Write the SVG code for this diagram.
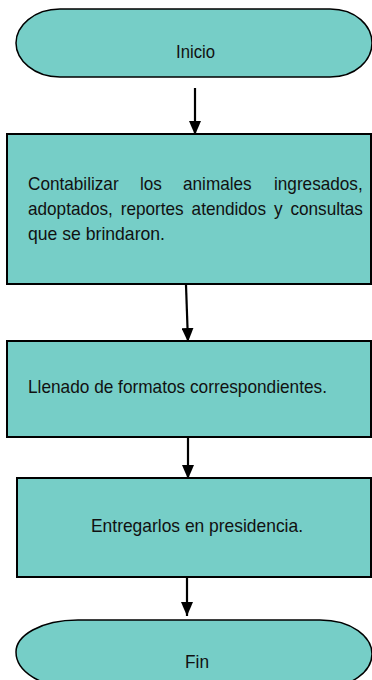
<svg xmlns="http://www.w3.org/2000/svg" width="372" height="680" viewBox="0 0 372 680">
<defs>
<style>
.shape{fill:#76cec7;stroke:#000;stroke-width:2}
.term{fill:#76cec7;stroke:#000;stroke-width:1.5}
.t{font-family:"Liberation Sans",Arial,sans-serif;font-size:18.5px;fill:#111}
.conn{stroke:#000;stroke-width:2.2;fill:none;marker-end:url(#ah)}
</style>
<marker id="ah" viewBox="0 0 14 12" refX="14" refY="6" markerWidth="14" markerHeight="12" markerUnits="userSpaceOnUse" orient="auto">
<path d="M0,0 L14,6 L0,12 Z" fill="#000"/>
</marker>
</defs>
<rect width="372" height="680" fill="#fff"/>
<g id="connectors">
<line class="conn" x1="195" y1="88" x2="195" y2="135"/>
<line class="conn" x1="186" y1="285" x2="188" y2="342"/>
<line class="conn" x1="188" y1="438" x2="188" y2="479"/>
<line class="conn" x1="187" y1="577" x2="187" y2="616"/>
</g>
<g id="inicio">
<path class="term" d="M60,9 H330 C356,9 372,26 372,43 C372,60 356,77 330,77 H60 C34,77 16,60 16,43 C16,26 34,9 60,9 Z"/>
<text class="t" x="176" y="58" textLength="39" lengthAdjust="spacingAndGlyphs">Inicio</text>
</g>
<g id="contabilizar">
<rect class="shape" x="7" y="134" width="364" height="150"/>
<text class="t" y="189.5"><tspan x="28" textLength="90.6" lengthAdjust="spacingAndGlyphs">Contabilizar</tspan><tspan x="140" textLength="21.9" lengthAdjust="spacingAndGlyphs">los</tspan><tspan x="183" textLength="68.7" lengthAdjust="spacingAndGlyphs">animales</tspan><tspan x="274" textLength="88.7" lengthAdjust="spacingAndGlyphs">ingresados,</tspan></text>
<text class="t" y="214.5"><tspan x="28" textLength="84.9" lengthAdjust="spacingAndGlyphs">adoptados,</tspan><tspan x="120.8" textLength="62.9" lengthAdjust="spacingAndGlyphs">reportes</tspan><tspan x="191.6" textLength="74.4" lengthAdjust="spacingAndGlyphs">atendidos</tspan><tspan x="273.9" textLength="8.6" lengthAdjust="spacingAndGlyphs">y</tspan><tspan x="290.4" textLength="72.5" lengthAdjust="spacingAndGlyphs">consultas</tspan></text>
<text class="t" x="28" y="239.5" textLength="137" lengthAdjust="spacingAndGlyphs">que se brindaron.</text>
</g>
<g id="llenado">
<rect class="shape" x="7" y="341" width="364" height="96"/>
<text class="t" x="28" y="393" textLength="299" lengthAdjust="spacingAndGlyphs">Llenado de formatos correspondientes.</text>
</g>
<g id="entregarlos">
<rect class="shape" x="17" y="478" width="354" height="99"/>
<text class="t" x="91" y="532" textLength="212" lengthAdjust="spacingAndGlyphs">Entregarlos en presidencia.</text>
</g>
<g id="fin">
<path class="term" d="M78,620 H320 C352,620 372,637 372,654 C372,671 352,688 320,688 H78 C40,688 16,671 16,652 C16,636 40,620 78,620 Z"/>
<text class="t" x="185" y="668" textLength="24" lengthAdjust="spacingAndGlyphs">Fin</text>
</g>
</svg>
